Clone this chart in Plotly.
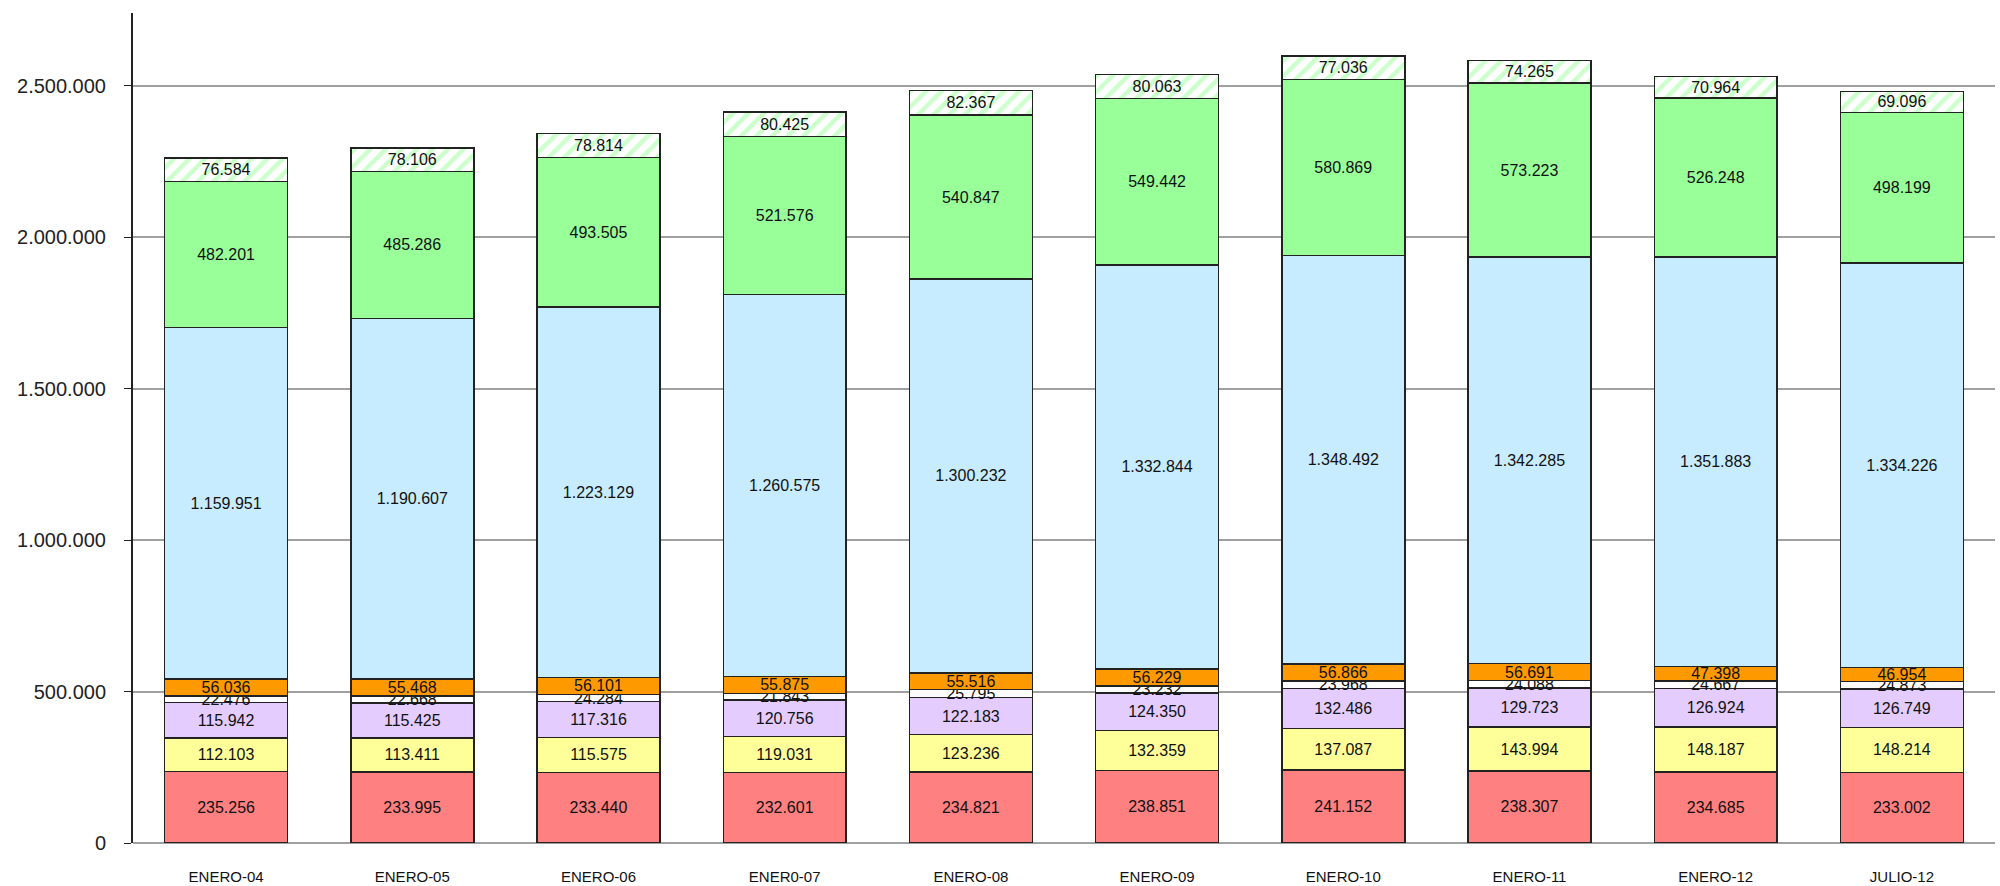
import plotly.graph_objects as go

categories = ["ENERO-04", "ENERO-05", "ENERO-06", "ENER0-07", "ENERO-08",
              "ENERO-09", "ENERO-10", "ENERO-11", "ENERO-12", "JULIO-12"]

s_red = [235256, 233995, 233440, 232601, 234821, 238851, 241152, 238307, 234685, 233002]
s_yellow = [112103, 113411, 115575, 119031, 123236, 132359, 137087, 143994, 148187, 148214]
s_lavender = [115942, 115425, 117316, 120756, 122183, 124350, 132486, 129723, 126924, 126749]
s_white = [22476, 22668, 24284, 21843, 25795, 23232, 23968, 24088, 24667, 24873]
s_orange = [56036, 55468, 56101, 55875, 55516, 56229, 56866, 56691, 47398, 46954]
s_blue = [1159951, 1190607, 1223129, 1260575, 1300232, 1332844, 1348492, 1342285, 1351883, 1334226]
s_green = [482201, 485286, 493505, 521576, 540847, 549442, 580869, 573223, 526248, 498199]
s_hatch = [76584, 78106, 78814, 80425, 82367, 80063, 77036, 74265, 70964, 69096]

series = [
    (s_red, "#ff8080", None),
    (s_yellow, "#ffff99", None),
    (s_lavender, "#e4ccff", None),
    (s_white, "#ffffff", None),
    (s_orange, "#ff9900", None),
    (s_blue, "#c8ecff", None),
    (s_green, "#99ff99", None),
    (s_hatch, "#ffffff", "/"),
]

fig = go.Figure()
for vals, col, pat in series:
    marker = dict(color=col, line=dict(color="#222222", width=1.5))
    if pat:
        marker["pattern"] = dict(shape=pat, fgcolor="#99ff99", bgcolor="#ffffff",
                                 size=11, solidity=0.4)
    fig.add_trace(go.Bar(
        x=categories, y=vals, marker=marker,
        texttemplate="%{y:,d}", textposition="inside", insidetextanchor="middle",
        textangle=0, textfont=dict(family="Liberation Sans, Arial", size=16, color="#111111"),
        hoverinfo="skip", showlegend=False,
    ))

fig.update_layout(
    barmode="stack", bargap=0.34,
    width=2000, height=886,
    margin=dict(l=133, r=5, t=13, b=43),
    paper_bgcolor="white", plot_bgcolor="white",
    separators=",.",
    uniformtext=dict(minsize=16, mode="show"),
    font=dict(family="Liberation Sans, Arial", color="#222222"),
)
fig.update_yaxes(
    automargin=False,
    range=[0, 2740000], tickvals=[0, 500000, 1000000, 1500000, 2000000, 2500000],
    tickformat=",d", showgrid=True, gridcolor="#a0a0a0", gridwidth=1.5,
    zeroline=True, zerolinecolor="#a0a0a0", zerolinewidth=1.5,
    showline=True, linecolor="#222222", linewidth=2,
    ticks="outside", ticklen=7, tickcolor="#222222",
    ticklabelstandoff=14,
    tickfont=dict(size=20, color="#222222"),
)
fig.update_xaxes(
    automargin=False,
    showline=False, ticks="", ticklabelstandoff=23,
    tickfont=dict(size=15, color="#111111"),
)

fig.write_html(
    "out.html",
    config={"displayModeBar": False},
    post_script="document.body.style.margin='0';document.body.style.overflow='hidden';",
)
